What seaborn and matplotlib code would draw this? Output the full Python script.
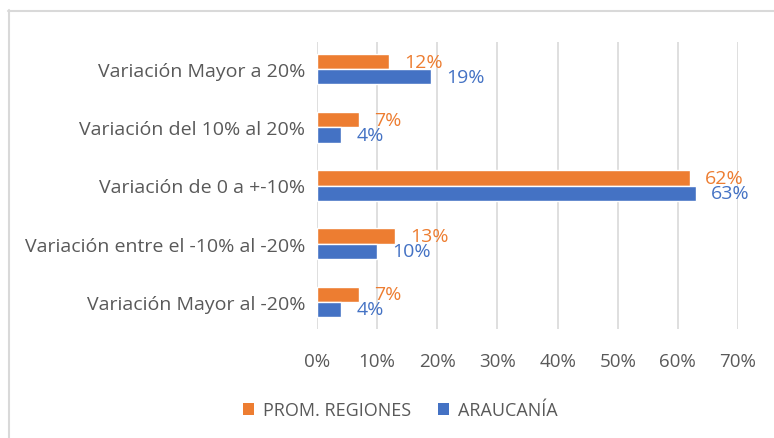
import matplotlib
matplotlib.use("Agg")
import matplotlib.pyplot as plt
from matplotlib.lines import Line2D
from matplotlib.patches import Patch
import seaborn as sns
import pandas as pd

categories = [
    "Variación Mayor a 20%",
    "Variación del 10% al 20%",
    "Variación de 0 a +-10%",
    "Variación entre el -10% al -20%",
    "Variación Mayor al -20%",
]
prom_regiones = [0.12, 0.07, 0.62, 0.13, 0.07]
araucania = [0.19, 0.04, 0.63, 0.10, 0.04]
series_names = ["PROM. REGIONES", "ARAUCANÍA"]
x_ticks = [0.0, 0.1, 0.2, 0.3, 0.4, 0.5, 0.6, 0.7]

ORANGE = "#ED7D31"
BLUE = "#4472C4"
GREY_TXT = "#595959"
GRID = "#D9D9D9"

df = pd.DataFrame({
    "categoria": categories * 2,
    "valor": prom_regiones + araucania,
    "serie": [series_names[0]] * len(categories) + [series_names[1]] * len(categories),
})

sns.set_theme(style="white")
plt.rcParams["font.family"] = ["Open Sans", "DejaVu Sans"]

fig = plt.figure(figsize=(7.74, 4.39), dpi=100)
ax = fig.add_axes([317 / 774, 1 - 330 / 439, (738 - 317) / 774, (330 - 43) / 439])

sns.barplot(
    data=df, x="valor", y="categoria", hue="serie", orient="h",
    order=categories, hue_order=series_names,
    palette=[ORANGE, BLUE], width=0.52, saturation=1, ax=ax, legend=False,
)

ax.set_xlim(0, 0.7)
ax.set_ylim(4.47, -0.47)
ax.set_xticks(x_ticks)
ax.set_xticklabels([f"{t * 100:.0f}%" for t in x_ticks], color=GREY_TXT, fontsize=13.5)
ax.tick_params(axis="y", labelsize=14, labelcolor=GREY_TXT, length=0, pad=8.5)
ax.tick_params(axis="x", length=0, pad=16.5)
ax.set_xlabel("")
ax.set_ylabel("")
for s in ax.spines.values():
    s.set_visible(False)
ax.xaxis.grid(True, color=GRID, linewidth=1.2)
ax.set_axisbelow(True)

# value labels beside each bar end, in the bar's colour
for container, color in zip(ax.containers, [ORANGE, BLUE]):
    ax.bar_label(container, labels=[f"{b.get_width() * 100:.0f}%" for b in container],
                 padding=11, color=color, fontsize=14)

handles = [Patch(facecolor=ORANGE, edgecolor="none"), Patch(facecolor=BLUE, edgecolor="none")]
fig.legend(handles, series_names, loc="center", bbox_to_anchor=(0.517, 0.063), ncol=2,
           frameon=False, fontsize=13, labelcolor=GREY_TXT, handlelength=0.6,
           handleheight=0.6, handletextpad=0.5, columnspacing=1.5)

# chart frame on the left and top edges
fig.add_artist(Line2D([8.5 / 774, 8.5 / 774], [0, 1 - 11 / 439], color=GRID, linewidth=1.5,
                      transform=fig.transFigure))
fig.add_artist(Line2D([8 / 774, 1], [1 - 11.5 / 439, 1 - 11.5 / 439], color=GRID, linewidth=1.5,
                      transform=fig.transFigure))

fig.savefig("out.png", dpi=100)
